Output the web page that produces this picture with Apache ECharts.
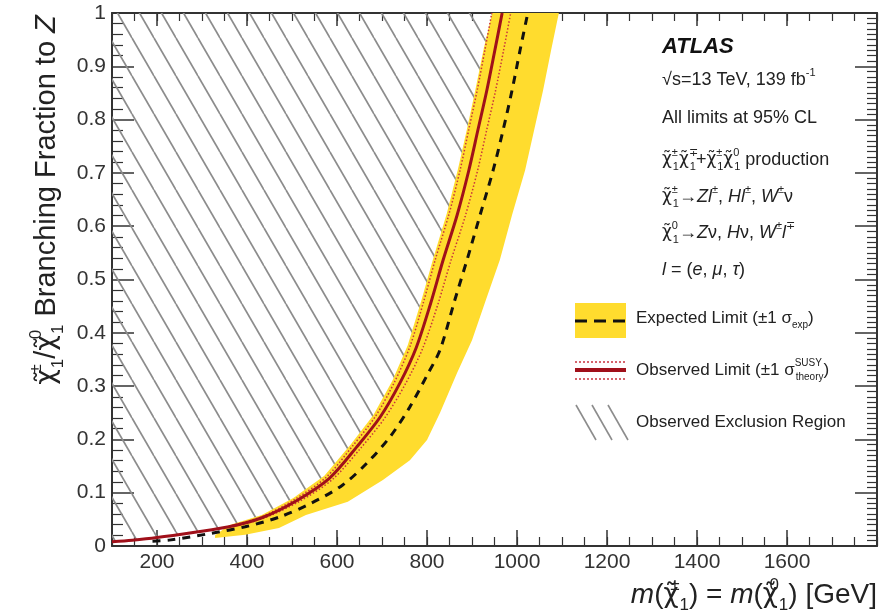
<!DOCTYPE html>
<html>
<head>
<meta charset="utf-8">
<script src="https://cdn.jsdelivr.net/npm/echarts@6/dist/echarts.min.js"></script>
<style>
  html, body { margin: 0; padding: 0; background: #fff; }
  #chart { width: 881px; height: 613px; }
</style>
</head>
<body>
<div id="chart"></div>
<script>
  // tick labels
  const xTickLabels = ['200', '400', '600', '800', '1000', '1200', '1400', '1600'];
  const yTickLabels = ['0', '0.1', '0.2', '0.3', '0.4', '0.5', '0.6', '0.7', '0.8', '0.9', '1'];
  const xMajor = xTickLabels.map(Number);

  // [mass GeV, branching fraction]
  const obsLimit = [[100,0.008],[145,0.011],[200,0.016],[284,0.026],[360,0.036],[433,0.053],[510,0.085],[583,0.127],[644,0.186],[696,0.242],[740,0.306],[776,0.372],[808,0.455],[836,0.537],[867,0.621],[893,0.705],[913,0.78],[933,0.855],[951,0.931],[967,1.0]];
  const obsDown = [[360,0.037],[433,0.055],[505,0.087],[576,0.129],[635,0.188],[686,0.244],[728,0.308],[762,0.374],[792,0.457],[819,0.539],[849,0.623],[874,0.707],[893,0.782],[912,0.857],[929,0.932],[944,1.0]];
  const obsUp = [[360,0.035],[433,0.051],[515,0.083],[590,0.125],[653,0.184],[706,0.24],[752,0.304],[790,0.37],[824,0.453],[853,0.535],[885,0.619],[912,0.703],[932,0.778],[952,0.853],[970,0.929],[986,1.0]];
  const expLimit = [[190,0.009],[227,0.011],[322,0.024],[396,0.036],[471,0.054],[542,0.08],[612,0.114],[667,0.156],[718,0.205],[762,0.261],[800,0.32],[829,0.368],[862,0.462],[889,0.537],[918,0.621],[947,0.705],[969,0.78],[989,0.855],[1007,0.931],[1024,1.0]];
  const expBandLow = [[329,0.02],[360,0.039],[433,0.058],[503,0.09],[572,0.132],[630,0.19],[681,0.246],[723,0.31],[757,0.376],[787,0.459],[814,0.54],[844,0.624],[869,0.708],[889,0.783],[908,0.858],[926,0.933],[945,1.0]];
  const expBandHigh = [[329,0.015],[396,0.021],[471,0.034],[531,0.058],[624,0.083],[702,0.124],[762,0.161],[800,0.199],[829,0.25],[867,0.325],[900,0.386],[931,0.462],[962,0.537],[989,0.621],[1018,0.705],[1038,0.78],[1058,0.855],[1076,0.931],[1093,1.0]];

  const FONT = "'Liberation Sans', Arial, Helvetica, sans-serif";
  const GREEK = "'DejaVu Sans', 'Liberation Sans', sans-serif";
  const TXT = '#222';

  // hatch pattern for the exclusion region
  function hatchPattern() {
    const c = document.createElement('canvas');
    c.width = 22; c.height = 38;
    const g = c.getContext('2d');
    g.strokeStyle = '#8c8c8c';
    g.lineWidth = 1.7;
    [-22, 0, 22].forEach(function (dx) {
      g.beginPath();
      g.moveTo(dx, 0);
      g.lineTo(dx + 22, 38);
      g.stroke();
    });
    return c;
  }

  function richStyles(size, lh) {
    const s = Math.round(size * 0.6);
    return {
      c: {fontSize: Math.round(size * 0.92), fontFamily: GREEK, fill: TXT, lineHeight: lh},
      i: {fontSize: size, fontFamily: FONT, fontStyle: 'italic', fill: TXT, lineHeight: lh},
      sp: {fontSize: s, fontFamily: FONT, fill: TXT, verticalAlign: 'top', width: 1},
      su: {fontSize: s, fontFamily: FONT, fill: TXT, verticalAlign: 'top'},
      sb: {fontSize: s, fontFamily: FONT, fill: TXT, verticalAlign: 'bottom'}
    };
  }

  function label(x, y, text, size, extra) {
    extra = extra || {};
    const lh = Math.round(size * (extra.lh || 1.4));
    return {
      type: 'text', x: x, y: y, silent: true, z: 50, rotation: extra.rotation || 0,
      style: {
        text: text, fontSize: size, fontFamily: FONT, fill: TXT, lineHeight: lh,
        align: extra.align || 'left', verticalAlign: 'middle', rich: richStyles(size, lh)
      }
    };
  }

  const CHI = '{c|χ\u0303}';

  function baseAxis(pos) {
    return {
      type: 'value',
      position: pos,
      axisLine: {show: true, onZero: false, lineStyle: {color: '#333', width: 2}},
      axisTick: {show: true, inside: true, length: 16, lineStyle: {color: '#333', width: 1.5}},
      minorTick: {show: false},
      splitLine: {show: false},
      axisLabel: {show: false, fontSize: 21, fontFamily: FONT, color: '#333', margin: 6}
    };
  }

  // major ticks (custom values) + minor ticks (interval 50 axis) for bottom and top
  function xMajorAxis(pos, len, showLabel) {
    const a = Object.assign(baseAxis(pos), {min: 100, max: 1800});
    a.axisTick.length = len;
    a.axisTick.customValues = xMajor;
    a.axisLabel.show = showLabel;
    a.axisLabel.customValues = xMajor;
    a.axisLabel.formatter = function (v) { return String(v); };
    return a;
  }
  function xMinorAxis(pos, len) {
    const a = Object.assign(baseAxis(pos), {min: 100, max: 1800, interval: 50});
    a.axisLine.show = false;
    a.axisTick.length = len;
    a.axisTick.lineStyle.width = 1.2;
    return a;
  }

  const yLeft = Object.assign(baseAxis('left'), {min: 0, max: 1, interval: 0.1});
  yLeft.axisTick.length = 22;
  yLeft.minorTick = {show: true, splitNumber: 5, length: 11, lineStyle: {color: '#333', width: 1.2}};
  yLeft.axisLabel.show = true;
  yLeft.axisLabel.formatter = function (v) {
    const s = String(+v.toFixed(1));
    return yTickLabels.indexOf(s) >= 0 ? s : '';
  };
  const yRight = Object.assign(baseAxis('right'), {min: 0, max: 1, interval: 0.1});
  yRight.axisTick.length = 22;
  yRight.minorTick = {show: true, splitNumber: 10, length: 10, lineStyle: {color: '#333', width: 1.2}};

  const chart = echarts.init(document.getElementById('chart'));
  const hatch = hatchPattern();

  const option = {
    animation: false,
    backgroundColor: '#fff',
    grid: {left: 112, right: 4, top: 13, bottom: 67, containLabel: false, outerBoundsMode: 'none'},
    xAxis: [xMajorAxis('bottom', 16, true), xMinorAxis('bottom', 9), xMajorAxis('top', 13, false), xMinorAxis('top', 8)],
    yAxis: [yLeft, yRight],
    series: [
      {
        // hatched observed exclusion region
        type: 'custom', xAxisIndex: 0, yAxisIndex: 0, z: 1, silent: true,
        data: obsLimit,
        renderItem: function (params, api) {
          if (params.dataIndex !== 0) return null;
          const pts = obsLimit.map(function (p) { return api.coord(p); });
          pts.push(api.coord([100, 1]));
          return {type: 'polygon', shape: {points: pts}, style: {fill: {image: hatch, repeat: 'repeat'}, stroke: null}};
        }
      },
      {
        // expected +-1 sigma band
        type: 'custom', xAxisIndex: 0, yAxisIndex: 0, z: 2, silent: true,
        data: expBandLow,
        renderItem: function (params, api) {
          if (params.dataIndex !== 0) return null;
          const pts = expBandLow.map(function (p) { return api.coord(p); })
            .concat(expBandHigh.slice().reverse().map(function (p) { return api.coord(p); }));
          return {type: 'polygon', shape: {points: pts}, style: {fill: '#ffdc2e', stroke: null}};
        }
      },
      {
        type: 'line', data: obsDown, z: 3, symbol: 'none', smooth: 0.3, silent: true,
        lineStyle: {color: '#c8323c', width: 1.5, type: [1.5, 2]}
      },
      {
        type: 'line', data: obsUp, z: 3, symbol: 'none', smooth: 0.3, silent: true,
        lineStyle: {color: '#c8323c', width: 1.5, type: [1.5, 2]}
      },
      {
        type: 'line', data: expLimit, z: 4, symbol: 'none', smooth: 0.3, silent: true,
        lineStyle: {color: '#111', width: 3, type: [8, 7]}
      },
      {
        type: 'line', data: obsLimit, z: 5, symbol: 'none', smooth: 0.3, silent: true,
        lineStyle: {color: '#a0101a', width: 3}
      }
    ],
    graphic: [
      // axis titles
      label(47, 200, CHI + '{sp|±}{sb|1}/' + CHI + '{sp|0}{sb|1} Branching Fraction to {i|Z}', 29,
        {rotation: Math.PI / 2, align: 'center', lh: 1.35}),
      label(877, 595, '{i|m}(' + CHI + '{sp|±}{sb|1}) = {i|m}(' + CHI + '{sp|0}{sb|1}) [GeV]', 28,
        {align: 'right', lh: 1.32}),
      // ATLAS block
      {type: 'text', x: 662, y: 47, silent: true, z: 50,
        style: {text: 'ATLAS', fontSize: 22, fontFamily: FONT, fontWeight: 'bold', fontStyle: 'italic', fill: '#111', align: 'left', verticalAlign: 'middle'}},
      label(662, 80, '√s=13 TeV, 139 fb{su|-1}', 18),
      label(662, 118, 'All limits at 95% CL', 18),
      label(662, 160, CHI + '{sp|±}{sb|1}' + CHI + '{sp|∓}{sb|1}+' + CHI + '{sp|±}{sb|1}' + CHI + '{sp|0}{sb|1} production', 18),
      label(662, 197, CHI + '{sp|±}{sb|1}→{i|Zl}{su|±}, {i|Hl}{su|±}, {i|W}{su|±}ν', 18),
      label(662, 233, CHI + '{sp|0}{sb|1}→{i|Z}ν, {i|H}ν, {i|W}{su|±}{i|l}{su|∓}', 18),
      label(662, 270, '{i|l} = ({i|e}, {i|μ}, {i|τ})', 18),
      // legend: expected
      {type: 'rect', shape: {x: 575, y: 303, width: 51, height: 35}, style: {fill: '#ffdc2e'}, silent: true, z: 50},
      {type: 'line', shape: {x1: 575, y1: 321, x2: 626, y2: 321}, style: {stroke: '#111', lineWidth: 3, lineDash: [12, 7]}, silent: true, z: 51},
      label(636, 318, 'Expected Limit (±1 σ{sb|exp})', 17),
      // legend: observed
      {type: 'line', shape: {x1: 575, y1: 362, x2: 626, y2: 362}, style: {stroke: '#c8323c', lineWidth: 1.3, lineDash: [2, 2]}, silent: true, z: 50},
      {type: 'line', shape: {x1: 575, y1: 370, x2: 626, y2: 370}, style: {stroke: '#a0101a', lineWidth: 4}, silent: true, z: 50},
      {type: 'line', shape: {x1: 575, y1: 379, x2: 626, y2: 379}, style: {stroke: '#c8323c', lineWidth: 1.3, lineDash: [2, 2]}, silent: true, z: 50},
      label(636, 370, 'Observed Limit (±1 σ{sp|SUSY}{sb|theory})', 17),
      // legend: exclusion
      {type: 'line', shape: {x1: 576, y1: 405, x2: 596, y2: 440}, style: {stroke: '#8c8c8c', lineWidth: 1.6}, silent: true, z: 50},
      {type: 'line', shape: {x1: 592, y1: 405, x2: 612, y2: 440}, style: {stroke: '#8c8c8c', lineWidth: 1.6}, silent: true, z: 50},
      {type: 'line', shape: {x1: 608, y1: 405, x2: 628, y2: 440}, style: {stroke: '#8c8c8c', lineWidth: 1.6}, silent: true, z: 50},
      label(636, 422, 'Observed Exclusion Region', 17)
    ]
  };

  chart.setOption(option);
</script>
</body>
</html>
